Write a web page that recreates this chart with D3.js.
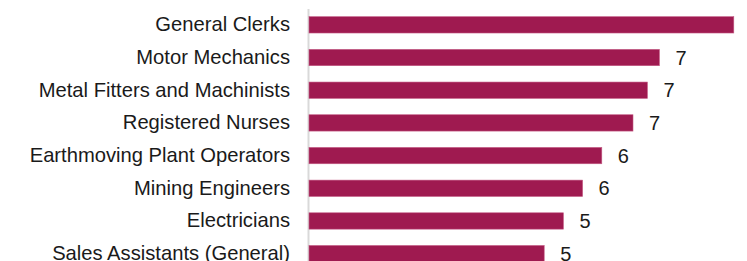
<!DOCTYPE html>
<html>
<head>
<meta charset="utf-8">
<script src="https://cdn.jsdelivr.net/npm/d3@7"></script>
<style>
  html, body { margin: 0; padding: 0; background: #fff; overflow: hidden; }
  svg { display: block; font-family: "Liberation Sans", Arial, sans-serif; }
</style>
</head>
<body>
<div id="chart"></div>
<script>
// occupations, top to bottom
const occupations = [
  'General Clerks',
  'Motor Mechanics',
  'Metal Fitters and Machinists',
  'Registered Nurses',
  'Earthmoving Plant Operators',
  'Mining Engineers',
  'Electricians',
  'Sales Assistants (General)'
]
// share of vacancies (%)
const shares = [8.85, 7.3, 7.05, 6.75, 6.1, 5.7, 5.3, 4.9]

const width = 747
const height = 261
const barColor = '#9f1a50'

const data = occupations.map((name, i) => ({ name: name, value: shares[i] }))

const svg = d3.select('#chart').append('svg')
  .attr('width', width)
  .attr('height', height)

const x = d3.scaleLinear()
  .domain([0, 10])
  .range([309, 789])

const y = d3.scaleBand()
  .domain(occupations)
  .range([8.5, 270])
  .paddingInner(0.5)
  .paddingOuter(0.25)

// category axis
const yAxis = svg.append('g')
  .attr('transform', 'translate(308,0)')
  .call(d3.axisLeft(y).tickSize(0).tickPadding(18).tickSizeOuter(0))

yAxis.select('.domain')
  .attr('stroke', '#d9d9d9')
  .attr('stroke-width', 2)

yAxis.selectAll('text')
  .attr('font-size', 20.2)
  .attr('fill', '#1a1a1a')
  .attr('font-family', '"Liberation Sans", Arial, sans-serif')

// bars
svg.selectAll('rect.bar')
  .data(data)
  .enter()
  .append('rect')
  .attr('class', 'bar')
  .attr('x', x(0))
  .attr('y', d => y(d.name))
  .attr('width', d => x(d.value) - x(0))
  .attr('height', y.bandwidth())
  .attr('fill', barColor)
  .attr('stroke', '#c45a84')
  .attr('stroke-width', 0.6)

// value labels
svg.selectAll('text.val')
  .data(data)
  .enter()
  .append('text')
  .attr('class', 'val')
  .attr('x', d => x(d.value) + 16)
  .attr('y', d => y(d.name) + y.bandwidth() / 2)
  .attr('dy', '0.36em')
  .attr('font-size', 20)
  .attr('fill', '#1a1a1a')
  .text(d => d3.format('.0f')(d.value))
</script>
</body>
</html>
